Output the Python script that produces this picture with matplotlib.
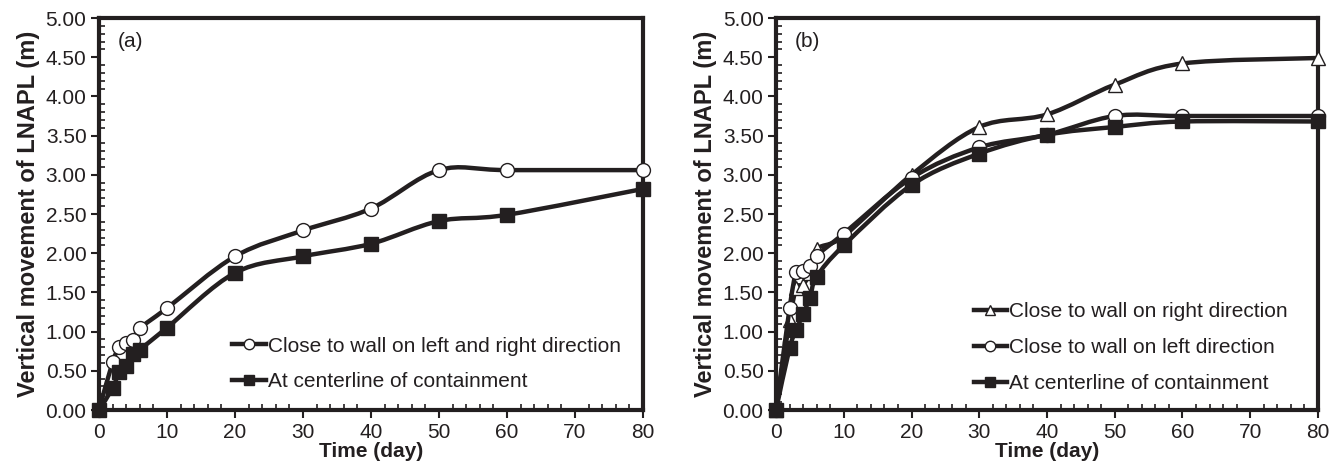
import numpy as np
import matplotlib
matplotlib.use("Agg")
import matplotlib.pyplot as plt
from matplotlib.path import Path
from matplotlib.patches import PathPatch
from matplotlib.ticker import MultipleLocator, FormatStrFormatter

plt.rcParams['font.family'] = ['Liberation Sans', 'DejaVu Sans']

# time (day)
days = [0, 2, 3, 4, 5, 6, 10, 20, 30, 40, 50, 60, 80]

# panel (a)
a_wall = [0, 0.61, 0.80, 0.85, 0.89, 1.04, 1.30, 1.96, 2.29, 2.57, 3.06, 3.06, 3.06]
a_center = [0, 0.28, 0.49, 0.56, 0.71, 0.77, 1.05, 1.75, 1.96, 2.12, 2.41, 2.49, 2.82]

# panel (b)
b_right = [0, 1.15, 1.55, 1.60, 1.75, 2.05, 2.22, 3.00, 3.61, 3.77, 4.15, 4.42, 4.49]
b_left = [0, 1.30, 1.76, 1.77, 1.84, 1.97, 2.25, 2.96, 3.35, 3.51, 3.75, 3.75, 3.75]
b_center = [0, 0.79, 1.02, 1.23, 1.43, 1.70, 2.10, 2.87, 3.27, 3.51, 3.61, 3.68, 3.68]

legend_a = ['Close to wall on left and right direction', 'At centerline of containment']
legend_b = ['Close to wall on right direction', 'Close to wall on left direction',
            'At centerline of containment']

LW = 3.2
INK = '#231f20'


def smooth_path(x, y, t=1/6):
    # Excel-style smoothed line drawn as cubic bezier segments
    x = np.asarray(x, float)
    y = np.asarray(y, float)
    n = len(x)
    verts = [(x[0], y[0])]
    codes = [Path.MOVETO]
    for i in range(n - 1):
        x0, y0 = (x[i - 1], y[i - 1]) if i > 0 else (x[i], y[i])
        x3, y3 = (x[i + 2], y[i + 2]) if i + 2 < n else (x[i + 1], y[i + 1])
        c1 = (x[i] + (x[i + 1] - x0) * t, y[i] + (y[i + 1] - y0) * t)
        c2 = (x[i + 1] - (x3 - x[i]) * t, y[i + 1] - (y3 - y[i]) * t)
        verts += [c1, c2, (x[i + 1], y[i + 1])]
        codes += [Path.CURVE4] * 3
    return Path(verts, codes)


def draw_series(ax, x, y, marker, face, ms, label, z):
    ax.add_patch(PathPatch(smooth_path(x, y), fill=False, lw=LW, ec=INK,
                           zorder=z, capstyle='round', joinstyle='round'))
    ax.plot(x, y, ls='none', marker=marker, ms=ms, mfc=face, mec=INK,
            mew=1.0, zorder=z + 0.5, clip_on=False)
    # proxy for legend
    ax.plot([], [], color=INK, lw=LW, marker=marker, ms=ms, mfc=face,
            mec=INK, mew=1.0, label=label)


def style_axes(ax, tag):
    ax.set_xlim(0, 80)
    ax.set_ylim(0, 5)
    ax.xaxis.set_major_locator(MultipleLocator(10))
    ax.xaxis.set_minor_locator(MultipleLocator(2))
    ax.yaxis.set_major_locator(MultipleLocator(0.5))
    ax.yaxis.set_minor_locator(MultipleLocator(0.1))
    ax.yaxis.set_major_formatter(FormatStrFormatter('%.2f'))
    for s in ax.spines.values():
        s.set_linewidth(3)
        s.set_color(INK)
    ax.tick_params(which='major', direction='out', length=6, width=1.5,
                   labelsize=15, color=INK, labelcolor=INK, pad=3)
    ax.tick_params(which='minor', direction='in', length=4, width=1.2,
                   color=INK)
    ax.set_xlabel('Time (day)', fontsize=15, fontweight='bold', labelpad=0,
                  color=INK)
    ax.set_ylabel('Vertical movement of LNAPL (m)', fontsize=17,
                  fontweight='bold', labelpad=4, color=INK)
    ax.text(0.035, 0.94, tag, transform=ax.transAxes, fontsize=15,
            va='center', ha='left', color=INK)


fig = plt.figure(figsize=(13.38, 4.74), dpi=100)
ax1 = fig.add_axes([0.074, 0.135, 0.4066, 0.827])
ax2 = fig.add_axes([0.58, 0.135, 0.405, 0.827])

leg_kw = dict(loc='lower right', frameon=False, fontsize=15, handlelength=1.6,
              handletextpad=0.1, labelspacing=0.8, borderaxespad=0.2,
              labelcolor=INK, markerscale=0.75)

draw_series(ax1, days, a_wall, 'o', 'white', 10, legend_a[0], 3)
draw_series(ax1, days, a_center, 's', INK, 9.5, legend_a[1], 4)
style_axes(ax1, '(a)')
ax1.legend(bbox_to_anchor=(0.982, 0.016), **leg_kw)

draw_series(ax2, days, b_right, '^', 'white', 10, legend_b[0], 3)
draw_series(ax2, days, b_left, 'o', 'white', 10, legend_b[1], 4)
draw_series(ax2, days, b_center, 's', INK, 9.5, legend_b[2], 5)
style_axes(ax2, '(b)')
ax2.legend(bbox_to_anchor=(0.967, 0.012), **leg_kw)

fig.savefig('out.png', dpi=100)
